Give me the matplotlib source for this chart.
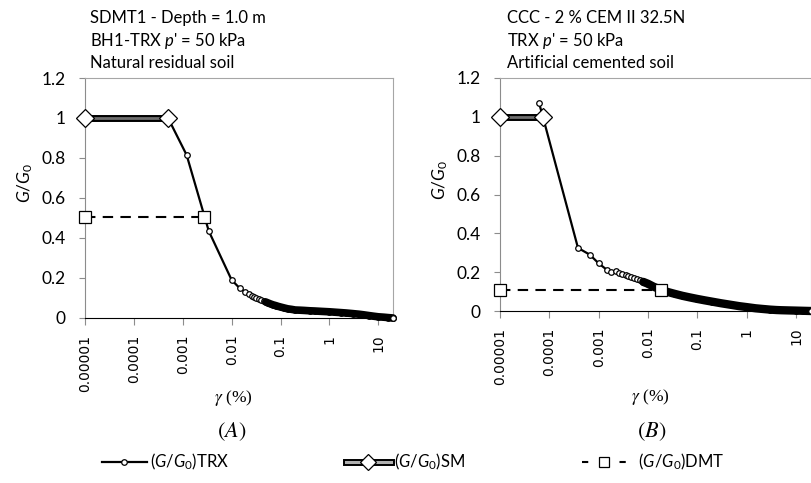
import numpy as np
import matplotlib
matplotlib.use("Agg")
import matplotlib.pyplot as plt
from matplotlib.ticker import NullLocator
from matplotlib.lines import Line2D

plt.rcParams['font.family'] = ['Lato', 'DejaVu Sans']
plt.rcParams['mathtext.fontset'] = 'custom'
plt.rcParams['mathtext.rm'] = 'Lato'
plt.rcParams['mathtext.it'] = 'Lato:italic'

# ---- data ----
x_ticks = [1e-5, 1e-4, 1e-3, 1e-2, 1e-1, 1, 10]
x_ticklabels = ['0.00001', '0.0001', '0.001', '0.01', '0.1', '1', '10']
y_ticks = [0, 0.2, 0.4, 0.6, 0.8, 1.0, 1.2]

# (A) natural residual soil
a_trx_g = [5e-4, 1.2e-3, 3.4e-3, 0.010, 0.0145, 0.019, 0.023, 0.026, 0.029, 0.032,
           0.036, 0.040, 0.045, 0.05, 0.056, 0.063, 0.07, 0.08, 0.09, 0.1, 0.12,
           0.14, 0.17, 0.2, 0.25, 0.3, 0.4, 0.5, 0.7, 1.0, 1.3, 1.7, 2.2, 3, 4, 5,
           6.5, 8, 10, 13, 16, 20]
a_trx_G = [1.0, 0.815, 0.435, 0.19, 0.15, 0.13, 0.12, 0.11, 0.105, 0.10,
           0.095, 0.09, 0.085, 0.08, 0.075, 0.07, 0.066, 0.062, 0.058, 0.055, 0.05,
           0.046, 0.043, 0.04, 0.039, 0.038, 0.036, 0.035, 0.033, 0.031, 0.029, 0.027,
           0.025, 0.022, 0.019, 0.016, 0.012, 0.009, 0.006, 0.004, 0.002, 0.0]
a_sm_g = [1e-5, 5e-4]
a_sm_G = [1.0, 1.0]
a_dmt_g = [1e-5, 2.7e-3]
a_dmt_G = [0.505, 0.505]

# (B) artificial cemented soil
b_trx_g = [6.2e-5, 7.4e-5, 3.8e-4, 6.6e-4, 1.0e-3, 1.5e-3, 1.8e-3, 2.2e-3, 2.6e-3,
           3.0e-3, 3.5e-3, 4.0e-3, 4.6e-3, 5.3e-3, 6.1e-3, 7e-3, 8e-3, 0.01, 0.013,
           0.018, 0.025, 0.035, 0.05, 0.07, 0.1, 0.14, 0.2, 0.3, 0.5, 0.7, 1.0, 1.5,
           2, 3, 4, 5, 7, 10, 14, 20]
b_trx_G = [1.07, 1.0, 0.325, 0.29, 0.245, 0.21, 0.20, 0.205, 0.198,
           0.192, 0.186, 0.18, 0.175, 0.17, 0.165, 0.158, 0.15, 0.14, 0.125,
           0.11, 0.098, 0.088, 0.078, 0.07, 0.062, 0.055, 0.048, 0.04, 0.031, 0.025,
           0.02, 0.014, 0.011, 0.007, 0.005, 0.004, 0.003, 0.002, 0.001, 0.0]
b_sm_g = [1e-5, 7.4e-5]
b_sm_G = [1.0, 1.0]
b_dmt_g = [1e-5, 0.018]
b_dmt_G = [0.11, 0.11]

titles = [["SDMT1 - Depth = 1.0 m", "BH1-TRX $p$' = 50 kPa", "Natural residual soil"],
          ["CCC - 2 % CEM II 32.5N", "TRX $p$' = 50 kPa", "Artificial cemented soil"]]
panel_labels = ['$(A)$', '$(B)$']

W, H = 811, 483
fig = plt.figure(figsize=(W / 100, H / 100), dpi=100)


def px(x0, y0, x1, y1):
    return [x0 / W, 1 - y1 / H, (x1 - x0) / W, (y1 - y0) / H]


def panel(rect, trx_g, trx_G, sm_g, sm_G, dmt_g, dmt_G, band_from, band_lw):
    ax = fig.add_axes(rect)
    ax.set_xscale('log')
    ax.set_xlim(1e-5, 20)
    ax.set_ylim(0, 1.2)
    ax.set_xticks(x_ticks)
    ax.set_xticklabels(x_ticklabels, rotation=90, family='DejaVu Sans', fontsize=10)
    ax.xaxis.set_minor_locator(NullLocator())
    ax.set_yticks(y_ticks)
    ax.set_yticklabels([f'{v:g}' for v in y_ticks], fontsize=12.5)
    ax.tick_params(axis='x', direction='out', length=5, color='#8c8c8c', pad=7)
    ax.tick_params(axis='y', direction='out', length=4, color='#8c8c8c', pad=10)
    ax.spines['bottom'].set_color('black')
    ax.spines['left'].set_color('#8c8c8c')
    for s in ('top', 'right'):
        ax.spines[s].set_color('#a6a6a6')
        ax.spines[s].set_linewidth(0.8)

    # DMT
    ax.plot(dmt_g, dmt_G, ls=(0, (5, 3.5)), color='black', lw=1.5, zorder=3)
    # TRX
    g = np.array(trx_g)
    G = np.array(trx_G)
    ax.plot(g, G, color='black', lw=1.6, zorder=4)
    ax.plot(g, G, ls='none', marker='o', ms=4, mfc='white', mec='black', mew=0.9,
            zorder=5, clip_on=False)
    band = g >= band_from
    ax.plot(g[band], G[band], color='black', lw=band_lw, solid_capstyle='round',
            zorder=6, clip_on=False)
    ax.plot(g[-1:], G[-1:], ls='none', marker='o', ms=4, mfc='white', mec='black',
            mew=0.9, zorder=7, clip_on=False)
    # SM
    ax.plot(sm_g, sm_G, color='black', lw=5, zorder=6, solid_capstyle='butt')
    ax.plot(sm_g, sm_G, color='#6e6e6e', lw=2, zorder=7, solid_capstyle='butt')
    ax.plot(sm_g, sm_G, ls='none', marker='D', ms=9, mfc='white', mec='black',
            mew=0.9, zorder=8, clip_on=False)
    # DMT markers on top
    ax.plot(dmt_g, dmt_G, ls='none', marker='s', ms=8, mfc='white', mec='black',
            mew=0.9, zorder=9, clip_on=False)
    return ax


axA = panel(px(85, 78, 393, 318), a_trx_g, a_trx_G, a_sm_g, a_sm_G,
            a_dmt_g, a_dmt_G, 0.05, 5.5)
axB = panel(px(500, 78, 811, 311), b_trx_g, b_trx_G, b_sm_g, b_sm_G,
            b_dmt_g, b_dmt_G, 0.008, 6)

# titles
for x0, lines in zip([90, 507], titles):
    for y0, t in zip([18, 41, 63], lines):
        fig.text(x0 / W, 1 - y0 / H, t, fontsize=12, va='center', ha='left')

# y labels
for x0, y0 in [(25, 183), (440, 180)]:
    fig.text(x0 / W, 1 - y0 / H, '$G/G_0$', fontsize=12.5, rotation=90,
             va='center', ha='center')

# x labels and panel letters
for x0, y0 in [(233, 398), (650, 397)]:
    fig.text(x0 / W, 1 - y0 / H, r'$\gamma$ (%)', fontsize=12.5,
             family='Liberation Serif', math_fontfamily='stix', va='center', ha='center')
for x0, lab in zip([232, 652], panel_labels):
    fig.text(x0 / W, 1 - 432 / H, lab, fontsize=16, math_fontfamily='stix',
             va='center', ha='center')

# legend
h_trx = Line2D([], [], color='black', lw=1.6, marker='o', ms=4, mfc='white',
               mec='black', mew=0.9)
h_sm = (Line2D([], [], color='black', lw=5),
        Line2D([], [], color='#b0b0b0', lw=2.2),
        Line2D([], [], ls='none', marker='D', ms=8, mfc='white', mec='black', mew=0.9))
h_dmt = Line2D([], [], color='black', lw=1.5, ls=(0, (3, 6)), marker='s', ms=7,
               mfc='white', mec='black', mew=0.9)
fig.legend([h_trx, h_sm, h_dmt],
           ['$(G/G_0)$TRX', '$(G/G_0)$SM', '  $(G/G_0)$DMT'],
           loc='center', bbox_to_anchor=(413 / W, 1 - 462 / H), ncol=3,
           frameon=False, fontsize=12, handlelength=2.7, handletextpad=0.2,
           columnspacing=7.0, numpoints=1)

fig.savefig('out.png', dpi=100)
